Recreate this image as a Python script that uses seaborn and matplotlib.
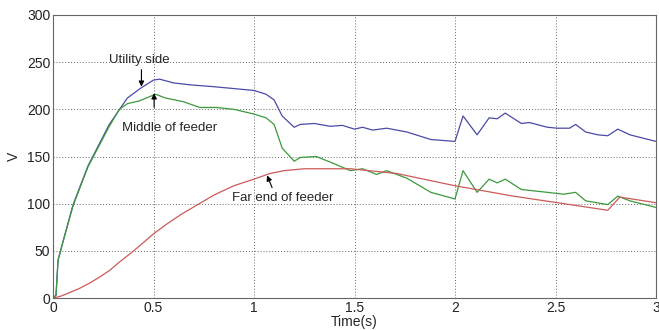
import numpy as np
import pandas as pd
import matplotlib
matplotlib.use("Agg")
import matplotlib.pyplot as plt
import seaborn as sns

# Utility side (blue)
t_util = [0, 0.015, 0.025, 0.045, 0.1, 0.174, 0.28, 0.37, 0.44, 0.5, 0.53, 0.6, 0.68, 0.8, 0.9, 1.0,
          1.06, 1.1, 1.14, 1.2, 1.23, 1.3, 1.38, 1.44, 1.5, 1.54, 1.59, 1.66, 1.76, 1.88, 2.0, 2.04,
          2.11, 2.17, 2.21, 2.25, 2.33, 2.37, 2.46, 2.51, 2.57, 2.6, 2.65, 2.71, 2.76, 2.81, 2.87, 3.0]
v_util = [0, 3, 40, 56, 99, 140, 184, 212, 223, 231, 232, 228, 226, 224, 222, 220,
          216, 210, 193, 181, 184, 185, 182, 183, 179, 181, 178, 180, 176, 168, 166, 193,
          173, 191, 190, 196, 185, 186, 181, 180, 180, 184, 176, 173, 172, 179, 173, 166]

# Middle of feeder (green)
t_mid = [0, 0.015, 0.025, 0.045, 0.1, 0.174, 0.28, 0.33, 0.37, 0.43, 0.51, 0.56, 0.65, 0.73, 0.81, 0.9, 1.0,
         1.06, 1.1, 1.14, 1.2, 1.23, 1.31, 1.38, 1.48, 1.54, 1.61, 1.66, 1.76, 1.88, 2.0, 2.04,
         2.11, 2.17, 2.21, 2.25, 2.33, 2.46, 2.54, 2.6, 2.65, 2.76, 2.81, 2.87, 3.0]
v_mid = [0, 3, 40, 56, 98, 139, 182, 200, 206, 209, 216, 212, 208, 202, 202, 200, 195,
         191, 184, 159, 145, 149, 150, 144, 135, 137, 131, 135, 127, 112, 105, 135,
         112, 126, 122, 126, 115, 112, 110, 112, 103, 99, 108, 103, 96]

# Far end of feeder (red)
t_far = [0, 0.04, 0.085, 0.13, 0.184, 0.23, 0.28, 0.33, 0.39, 0.44, 0.5, 0.57, 0.64, 0.72, 0.8, 0.9,
         1.0, 1.08, 1.15, 1.25, 1.38, 1.48, 1.71, 2.0, 2.29, 2.51, 2.76, 2.82, 3.0]
v_far = [0, 2, 6, 10, 16, 22, 29, 38, 48, 57, 68, 79, 89, 99, 109, 119,
         126, 132, 135, 137, 137, 137, 132, 119, 108, 101, 93, 107, 101]

sns.set_theme(style="white")
plt.rcParams['font.family'] = ['Liberation Sans', 'DejaVu Sans']

fig = plt.figure(figsize=(6.59, 3.30), dpi=100)
ax = fig.add_axes([53/659, 1 - 298/330, (656 - 53)/659, (298 - 15)/330])

sns.lineplot(x=t_util, y=v_util, ax=ax, color="#4a4aa8", linewidth=0.9)
sns.lineplot(x=t_mid, y=v_mid, ax=ax, color="#3c9a3c", linewidth=0.9)
sns.lineplot(x=t_far, y=v_far, ax=ax, color="#cc5a5a", linewidth=0.9)

ax.set_xlim(0, 3)
ax.set_ylim(0, 300)
ax.set_xticks([0, 0.5, 1, 1.5, 2, 2.5, 3])
ax.set_xticklabels(["0", "0.5", "1", "1.5", "2", "2.5", "3"])
ax.set_yticks([0, 50, 100, 150, 200, 250, 300])
ax.grid(True, linestyle=(0, (1, 2)), color="#666666", linewidth=0.7)
for s in ax.spines.values():
    s.set_color("#666666")
    s.set_linewidth(0.8)
ax.tick_params(axis='both', labelsize=10, colors="#222222", length=3, direction='in', pad=2)
ax.set_xlabel("Time(s)", fontsize=10, labelpad=0)
ax.set_ylabel("V", fontsize=10, labelpad=4)

arrow = dict(arrowstyle="-|>", color="black", lw=0.8, mutation_scale=8, shrinkA=0, shrinkB=0)
ax.text(0.43, 252, "Utility side", fontsize=9.5, ha="center", va="center")
ax.annotate("", xy=(0.44, 224), xytext=(0.44, 242), arrowprops=arrow)
ax.text(0.58, 180, "Middle of feeder", fontsize=9.5, ha="center", va="center")
ax.annotate("", xy=(0.503, 217), xytext=(0.503, 202), arrowprops=arrow)
ax.text(0.89, 106, "Far end of feeder", fontsize=9.5, ha="left", va="center")
ax.annotate("", xy=(1.065, 130), xytext=(1.09, 117), arrowprops=arrow)

fig.savefig("out.png", dpi=100)
